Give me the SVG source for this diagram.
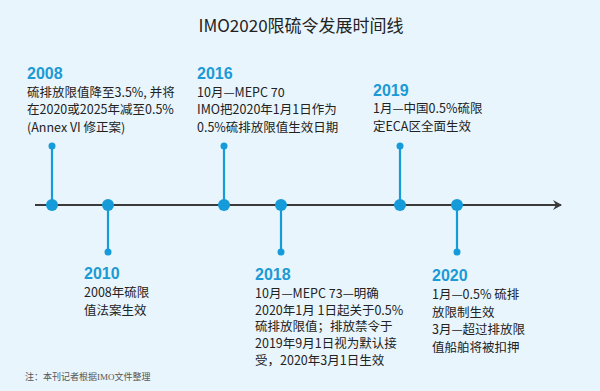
<svg xmlns="http://www.w3.org/2000/svg" width="600" height="391" viewBox="0 0 600 391">
<defs>
<style>
.yr{font-family:"Liberation Sans","Noto Sans CJK SC",sans-serif;font-weight:bold;font-size:16px;fill:#1b9ad6}
.tx{font-family:"Noto Sans CJK SC",sans-serif;font-size:12.5px;fill:#222}
.stem{stroke:#159bd9;stroke-width:2.2}
.dot{fill:#159bd9}
</style>
<marker id="ah" markerWidth="10" markerHeight="10" refX="8" refY="5" orient="auto" markerUnits="userSpaceOnUse">
<path d="M0,0 L9,5 L0,10 L3,5 Z" fill="#3a3a3a"/>
</marker>
</defs>
<rect width="600" height="391" fill="#e9f5fc"/>
<text x="301" y="32" text-anchor="middle" font-family="Noto Sans CJK SC, sans-serif" font-size="17" fill="#222">IMO2020限硫令发展时间线</text>
<g id="connectors">
<line x1="35" y1="205" x2="561" y2="205" stroke="#3a3a3a" stroke-width="2.2" marker-end="url(#ah)"/>
<line class="stem" x1="52" y1="146" x2="52" y2="205"/>
<line class="stem" x1="108" y1="205" x2="108" y2="252"/>
<line class="stem" x1="224" y1="146" x2="224" y2="205"/>
<line class="stem" x1="281" y1="205" x2="281" y2="252"/>
<line class="stem" x1="400" y1="146" x2="400" y2="205"/>
<line class="stem" x1="457" y1="205" x2="457" y2="252"/>
</g>
<g id="n2008">
<circle class="dot" cx="52" cy="146" r="3.5"/><circle class="dot" cx="52" cy="205" r="6"/>
<text class="yr" x="27" y="79">2008</text>
<text class="tx" x="27" y="97">硫排放限值降至3.5%, 并将</text>
<text class="tx" x="27" y="114">在2020或2025年减至0.5%</text>
<text class="tx" x="27" y="132">(Annex VI 修正案)</text>
</g>
<g id="n2010">
<circle class="dot" cx="108" cy="252" r="3.5"/><circle class="dot" cx="108" cy="205" r="6"/>
<text class="yr" x="84" y="279">2010</text>
<text class="tx" x="84" y="297">2008年硫限</text>
<text class="tx" x="84" y="315">值法案生效</text>
</g>
<g id="n2016">
<circle class="dot" cx="224" cy="146" r="3.5"/><circle class="dot" cx="224" cy="205" r="6"/>
<text class="yr" x="197" y="79">2016</text>
<text class="tx" x="197" y="97">10月—MEPC 70</text>
<text class="tx" x="197" y="114">IMO把2020年1月1日作为</text>
<text class="tx" x="197" y="132">0.5%硫排放限值生效日期</text>
</g>
<g id="n2018">
<circle class="dot" cx="281" cy="252" r="3.5"/><circle class="dot" cx="281" cy="205" r="6"/>
<text class="yr" x="255" y="280">2018</text>
<text class="tx" x="255" y="298">10月—MEPC 73—明确</text>
<text class="tx" x="255" y="315">2020年1月 1日起关于0.5%</text>
<text class="tx" x="255" y="331">硫排放限值；排放禁令于</text>
<text class="tx" x="255" y="348">2019年9月1日视为默认接</text>
<text class="tx" x="255" y="365">受，2020年3月1日生效</text>
</g>
<g id="n2019">
<circle class="dot" cx="400" cy="146" r="3.5"/><circle class="dot" cx="400" cy="205" r="6"/>
<text class="yr" x="373" y="96">2019</text>
<text class="tx" x="373" y="113">1月—中国0.5%硫限</text>
<text class="tx" x="373" y="131">定ECA区全面生效</text>
</g>
<g id="n2020">
<circle class="dot" cx="457" cy="252" r="3.5"/><circle class="dot" cx="457" cy="205" r="6"/>
<text class="yr" x="432" y="281">2020</text>
<text class="tx" x="432" y="299">1月—0.5% 硫排</text>
<text class="tx" x="432" y="317">放限制生效</text>
<text class="tx" x="432" y="334">3月—超过排放限</text>
<text class="tx" x="432" y="352">值船舶将被扣押</text>
</g>
<text x="25" y="380" font-family="Liberation Serif, Noto Sans CJK SC, serif" font-size="9" fill="#555">注：本刊记者根据IMO文件整理</text>
</svg>
